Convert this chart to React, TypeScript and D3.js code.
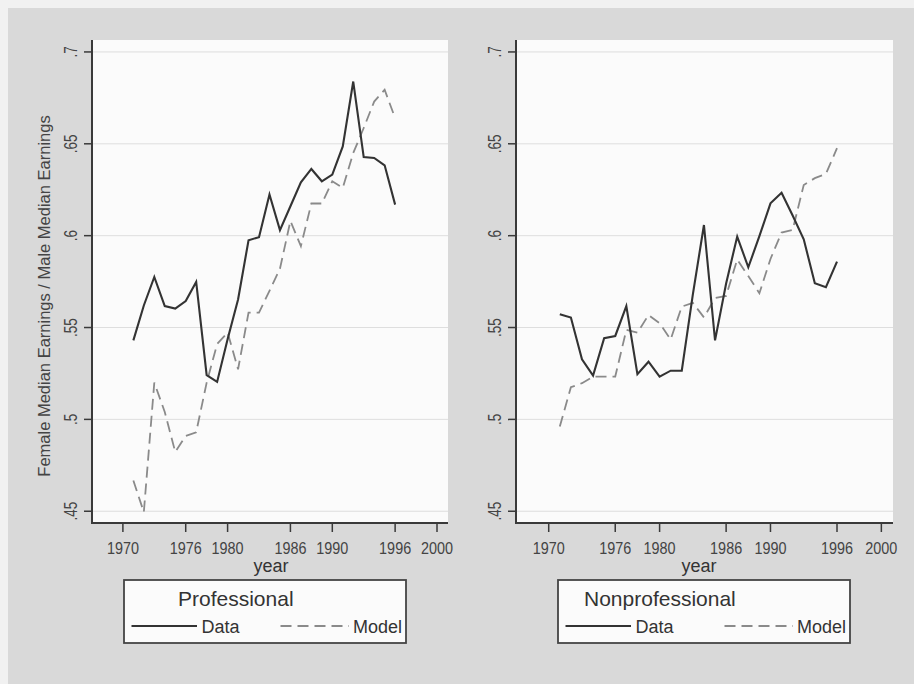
import React from "react";
import * as d3 from "d3";

const years = [1971, 1972, 1973, 1974, 1975, 1976, 1977, 1978, 1979, 1980, 1981, 1982, 1983, 1984, 1985, 1986, 1987, 1988, 1989, 1990, 1991, 1992, 1993, 1994, 1995, 1996];

const profData = [0.543, 0.562, 0.5775, 0.5617, 0.5603, 0.5644, 0.5748, 0.5241, 0.5204, 0.5436, 0.5653, 0.5975, 0.5992, 0.6224, 0.603, 0.616, 0.629, 0.6363, 0.6296, 0.6332, 0.6486, 0.6839, 0.6428, 0.6423, 0.6383, 0.6169];
const profModel = [0.4667, 0.4495, 0.52, 0.504, 0.4823, 0.491, 0.493, 0.52, 0.541, 0.5473, 0.5273, 0.5581, 0.5581, 0.57, 0.582, 0.608, 0.5943, 0.6175, 0.6175, 0.6296, 0.626, 0.645, 0.6586, 0.673, 0.6794, 0.664];

const nonData = [0.5572, 0.5554, 0.5327, 0.5238, 0.5442, 0.5454, 0.5617, 0.5246, 0.5314, 0.5233, 0.5265, 0.5265, 0.568, 0.6058, 0.543, 0.574, 0.5995, 0.5828, 0.5997, 0.6176, 0.6234, 0.611, 0.598, 0.5741, 0.5719, 0.5859];
const nonModel = [0.4961, 0.5175, 0.5197, 0.5233, 0.5233, 0.5233, 0.5487, 0.5472, 0.5568, 0.5523, 0.5435, 0.5614, 0.5634, 0.5555, 0.566, 0.5672, 0.587, 0.578, 0.5687, 0.5873, 0.6017, 0.6031, 0.6276, 0.6313, 0.6336, 0.6476];

const xTicks = [1970, 1976, 1980, 1986, 1990, 1996, 2000];
const yTicks = [0.45, 0.5, 0.55, 0.6, 0.65, 0.7];
const yTickLabels = [".45", ".5", ".55", ".6", ".65", ".7"];

const panelTitles = ["Professional", "Nonprofessional"];
const legendLabels = ["Data", "Model"];
const xTitle = "year";
const yTitle = "Female Median Earnings / Male Median Earnings";

const FONT = "'Liberation Sans', Arial, Helvetica, sans-serif";

type PanelProps = {
  left: number;
  right: number;
  top: number;
  bottom: number;
  data: number[];
  model: number[];
  title: string;
  legend: { x: number; w: number; titleDx: number };
  yLabelX: number;
  xTitleX: number;
};

function Panel(p: PanelProps) {
  const x = d3.scaleLinear().domain([1967.05, 2001.05]).range([p.left, p.right]);
  const y = d3.scaleLinear().domain([0.4436, 0.7065]).range([p.bottom, p.top]);
  const line = d3
    .line<number>()
    .x((_, i) => x(years[i]))
    .y((v) => y(v));
  const axisColor = "#3a3a3a";
  const lx = p.legend.x;
  const lw = p.legend.w;
  const ly = 580;
  const lh = 63;
  return (
    <g>
      <rect x={p.left} y={p.top} width={p.right - p.left} height={p.bottom - p.top} fill="#fbfbfb" />
      {yTicks.map((t, i) => (
        <line key={"g" + i} x1={p.left} x2={p.right} y1={y(t)} y2={y(t)} stroke="#dedede" strokeWidth={1} />
      ))}
      <path d={line(p.model) || ""} fill="none" stroke="#8a8a8a" strokeWidth={1.8} strokeDasharray="11,6" />
      <path d={line(p.data) || ""} fill="none" stroke="#333" strokeWidth={2.1} strokeLinejoin="miter" />
      {/* y axis */}
      <line x1={p.left} x2={p.left} y1={p.top} y2={p.bottom + 1} stroke={axisColor} strokeWidth={2} />
      {yTicks.map((t, i) => (
        <g key={"yt" + i}>
          <line x1={p.left - 8} x2={p.left} y1={y(t)} y2={y(t)} stroke={axisColor} strokeWidth={1.5} />
          <text
            transform={`translate(${p.yLabelX},${y(t)}) rotate(-90) scale(0.75,1)`}
            textAnchor="middle"
            fontSize={18}
            fill="#444"
            fontFamily={FONT}
          >
            {yTickLabels[i]}
          </text>
        </g>
      ))}
      {/* x axis */}
      <line x1={p.left - 1} x2={p.right} y1={p.bottom} y2={p.bottom} stroke={axisColor} strokeWidth={2} />
      {xTicks.map((t, i) => (
        <g key={"xt" + i}>
          <line x1={x(t)} x2={x(t)} y1={p.bottom} y2={p.bottom + 9} stroke={axisColor} strokeWidth={1.5} />
          <text
            transform={`translate(${x(t)},553.5) scale(0.9,1)`}
            textAnchor="middle"
            fontSize={16}
            fill="#444"
            fontFamily={FONT}
          >
            {t}
          </text>
        </g>
      ))}
      <text x={p.xTitleX} y={572} textAnchor="middle" fontSize={18} fill="#333" fontFamily={FONT}>
        {xTitle}
      </text>
      {/* legend */}
      <rect x={lx} y={ly} width={lw} height={lh} fill="#fbfbfb" stroke="#444" strokeWidth={1.8} />
      <text x={lx + p.legend.titleDx} y={606} fontSize={21} fill="#333" fontFamily={FONT}>
        {p.title}
      </text>
      <line x1={lx + 7.5} x2={lx + 73} y1={626} y2={626} stroke="#333" strokeWidth={2} />
      <text x={lx + 77.5} y={633} fontSize={18} fill="#333" fontFamily={FONT}>
        {legendLabels[0]}
      </text>
      <line x1={lx + lw - 125.5} x2={lx + lw - 57} y1={626} y2={626} stroke="#8a8a8a" strokeWidth={1.8} strokeDasharray="11,6" />
      <text x={lx + lw - 53} y={633} fontSize={18} fill="#333" fontFamily={FONT}>
        {legendLabels[1]}
      </text>
    </g>
  );
}

export default function App() {
  return (
    <svg
      width={914}
      height={684}
      style={{ position: "absolute", left: 0, top: 0, display: "block" }}
      xmlns="http://www.w3.org/2000/svg"
    >
      <rect x={0} y={0} width={914} height={684} fill="#f1f1f1" />
      <rect x={8} y={8} width={906} height={676} fill="#d9d9d9" />
      <text
        transform={`translate(50,296) rotate(-90)`}
        textAnchor="middle"
        fontSize={16.5}
        fill="#444"
        fontFamily={FONT}
      >
        {yTitle}
      </text>
      <Panel
        left={92}
        right={448}
        top={40}
        bottom={523}
        data={profData}
        model={profModel}
        title={panelTitles[0]}
        legend={{ x: 124, w: 282, titleDx: 54 }}
        yLabelX={77}
        xTitleX={271}
      />
      <Panel
        left={516}
        right={893}
        top={40}
        bottom={523}
        data={nonData}
        model={nonModel}
        title={panelTitles[1]}
        legend={{ x: 558, w: 292, titleDx: 26 }}
        yLabelX={501}
        xTitleX={699}
      />
    </svg>
  );
}
